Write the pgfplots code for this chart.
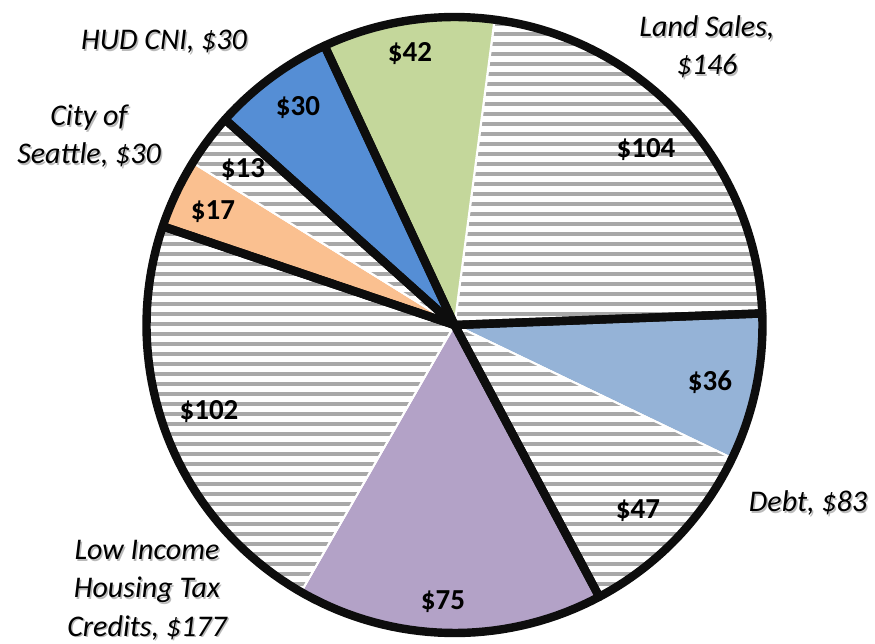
\documentclass[border=0pt]{standalone}
\usepackage{fontspec}
\setmainfont{Carlito}
\usepackage{pgfplots}
\pgfplotsset{compat=1.18}
\usepgfplotslibrary{polar}
\usetikzlibrary{patterns.meta}

\definecolor{cGreen}{HTML}{C4D79B}
\definecolor{cBlue}{HTML}{558ED5}
\definecolor{cLight}{HTML}{95B3D7}
\definecolor{cPurple}{HTML}{B3A2C7}
\definecolor{cOrange}{HTML}{FAC090}
\definecolor{cHatch}{HTML}{A8A8A8}

% slice values ($M), clockwise from the Land Sales cut
\def\vA{104}  % land sales (other)
\def\vB{36}   % debt
\def\vC{47}   % debt (other)
\def\vD{75}   % LIHTC
\def\vE{102}  % LIHTC (other)
\def\vF{17}   % city of seattle
\def\vG{13}   % city (other)
\def\vH{30}   % HUD CNI
\def\vI{42}   % land sales
\def\total{466}

\pgfmathsetmacro\aA{82.5}
\pgfmathsetmacro\aB{\aA-\vA/\total*360}
\pgfmathsetmacro\aC{\aB-\vB/\total*360}
\pgfmathsetmacro\aD{\aC-\vC/\total*360}
\pgfmathsetmacro\aE{\aD-\vD/\total*360}
\pgfmathsetmacro\aF{\aE-\vE/\total*360}
\pgfmathsetmacro\aG{\aF-\vF/\total*360}
\pgfmathsetmacro\aH{\aG-\vG/\total*360}
\pgfmathsetmacro\aI{\aH-\vH/\total*360}
\pgfmathsetmacro\aJ{\aI-\vI/\total*360}

\pgfplotsset{
  wedge/.style={draw=white, line width=1pt, line join=round, samples=80},
  hatched/.style={preaction={fill=white}, pattern={Lines[angle=0, distance=5pt, line width=1.7pt]}, pattern color=cHatch},
  group/.style={draw=black!95, line width=4.2pt, line join=round, samples=80},
}

\newcommand\lab[4][]{%
  \node[text=black!60, opacity=0.45, align=center, #1] at ({#2+1.5},{#3+1.8}) {#4};
  \node[text=black, align=center, #1] at (#2,#3) {#4};}

\begin{document}
\begin{tikzpicture}
\begin{scope}[shift={(-227.25pt,162.5pt)}, x=0.5pt, y=-0.5pt]
\path[use as bounding box] (0,0) rectangle (875,644);
\end{scope}

\begin{polaraxis}[
  at={(0,0)}, anchor=center,
  scale only axis, width=308pt, height=308pt,
  hide axis, clip=false,
  ymin=0, ymax=1,
]
\addplot[wedge, hatched, domain=\aB:\aA] {1} -- (axis cs:0,0) -- cycle;
\addplot[wedge, fill=cLight, domain=\aC:\aB] {1} -- (axis cs:0,0) -- cycle;
\addplot[wedge, hatched, domain=\aD:\aC] {1} -- (axis cs:0,0) -- cycle;
\addplot[wedge, fill=cPurple, domain=\aE:\aD] {1} -- (axis cs:0,0) -- cycle;
\addplot[wedge, hatched, domain=\aF:\aE] {1} -- (axis cs:0,0) -- cycle;
\addplot[wedge, fill=cOrange, domain=\aG:\aF] {1} -- (axis cs:0,0) -- cycle;
\addplot[wedge, hatched, domain=\aH:\aG] {1} -- (axis cs:0,0) -- cycle;
\addplot[wedge, fill=cBlue, domain=\aI:\aH] {1} -- (axis cs:0,0) -- cycle;
\addplot[wedge, fill=cGreen, domain=\aJ:\aI] {1} -- (axis cs:0,0) -- cycle;
% group outlines
\addplot[group, domain=\aB:\aA+\vI/\total*360] {1} -- (axis cs:0,0) -- cycle;
\addplot[group, domain=\aD:\aB] {1} -- (axis cs:0,0) -- cycle;
\addplot[group, domain=\aF:\aD] {1} -- (axis cs:0,0) -- cycle;
\addplot[group, domain=\aH:\aF] {1} -- (axis cs:0,0) -- cycle;
\addplot[group, domain=\aI:\aH] {1} -- (axis cs:0,0) -- cycle;
\end{polaraxis}

\begin{scope}[shift={(-227.25pt,162.5pt)}, x=0.5pt, y=-0.5pt,
  every node/.style={inner sep=0pt}]
\begingroup
\bfseries\fontsize{14.5}{17}\selectfont
\node at (410,54) {\$42};
\node at (646,150) {\$104};
\node at (710,382) {\$36};
\node at (638,511) {\$47};
\node at (443,602) {\$75};
\node at (209,412) {\$102};
\node at (213,212) {\$17};
\node at (243,170) {\$13};
\node at (298,108) {\$30};
\endgroup
\begingroup
\itshape\fontsize{15}{19.2}\selectfont
\lab{707}{47}{Land Sales,\\\$146}
\lab{808}{503}{Debt, \$83}
\lab{147}{590}{Low Income\\Housing Tax\\Credits, \$177}
\lab{89}{136}{City of\\Seattle, \$30}
\lab{164}{42}{HUD CNI, \$30}
\endgroup
\end{scope}
\end{tikzpicture}
\end{document}
